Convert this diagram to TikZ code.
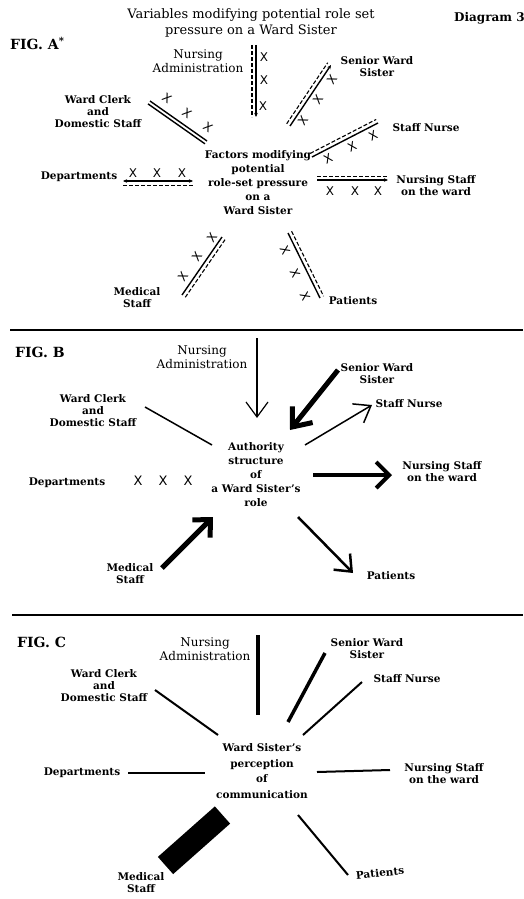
\documentclass[tikz,border=0pt]{standalone}
\usepackage{fontspec}
\setmainfont{DejaVu Serif}
\newfontfamily\crossfont{DejaVu Sans}
\usetikzlibrary{arrows.meta,calc}

\tikzset{
  lab/.style={font=\fontsize{10.5}{12}\selectfont\bfseries, align=center, inner sep=0pt},
  labr/.style={font=\fontsize{12}{13.5}\selectfont, align=center, inner sep=0pt},
  hub/.style={align=center, inner sep=0pt, font=\fontsize{10.5}{14}\selectfont\bfseries},
  ttl/.style={font=\fontsize{13}{15.5}\selectfont, align=center, inner sep=0pt},
  figlab/.style={font=\fontsize{14}{14}\selectfont\bfseries, inner sep=0pt, anchor=base west},
  xm/.style={font=\crossfont\fontsize{12}{12}\selectfont, inner sep=0pt},
  xmb/.style={font=\crossfont\fontsize{13}{13}\selectfont, inner sep=0pt},
  rail/.style={line width=1.4pt},
  raild/.style={line width=1.1pt, dash pattern=on 4pt off 2pt},
  smalltip/.style={-{Stealth[length=4pt,width=3.5pt]}},
  seprule/.style={line width=2.5pt},
}

\begin{document}
\begin{tikzpicture}[x=1pt,y=-1pt]
\useasboundingbox (0,0) rectangle (523,899);
\fill[white] (0,0) rectangle (523,899);

% ---------------- heading ----------------
\node[ttl] (title) at (251,23) {Variables modifying potential role set\\pressure on a Ward Sister};
\node[figlab, font=\fontsize{12}{12}\selectfont\bfseries] (diag) at (454,22) {Diagram 3};

% ---------------- FIG. A : role-set pressure ----------------
\node[figlab] (figA) at (10,50) {FIG. A\textsuperscript{*}};
\node[labr] (aAdm) at (198,61) {Nursing\\Administration};
\node[lab] (aSen) at (377,67) {Senior Ward\\Sister};
\node[lab] (aClk) at (98,112) {Ward Clerk\\and\\Domestic Staff};
\node[lab] (aNur) at (426,128) {Staff Nurse};
\node[lab] (aDep) at (79,177) {Departments};
\node[lab] (aStf) at (436,186) {Nursing Staff\\on the ward};
\node[hub] (aHub) at (258,183) {Factors modifying\\potential\\role-set pressure\\on a\\Ward Sister};
\node[lab] (aMed) at (137,298) {Medical\\Staff};
\node[lab] (aPat) at (353,301) {Patients};

% paired rails (one solid, one dashed) with crosses
\coordinate (aAdmA) at (256,45);  \coordinate (aAdmB) at (256,117);
\draw[rail, smalltip] (aAdmA) -- (aAdmB);
\draw[raild] ($(aAdmA)!4pt!-90:(aAdmB)$) -- ($(aAdmB)!4pt!90:(aAdmA)$);
\node[xm] (aAdmX1) at (264,57) {X};
\node[xm] (aAdmX2) at (264,80) {X};
\node[xm] (aAdmX3) at (263,106) {X};

\coordinate (aSenA) at (290,126); \coordinate (aSenB) at (331,65);
\draw[rail, smalltip] (aSenA) -- (aSenB);
\draw[raild] ($(aSenA)!4pt!90:(aSenB)$) -- ($(aSenB)!4pt!-90:(aSenA)$);
\node[xm, rotate=55] (aSenX1) at (332,80) {X};
\node[xm, rotate=55] (aSenX2) at (318,100) {X};
\node[xm, rotate=55] (aSenX3) at (303,121) {X};

\coordinate (aClkA) at (150,101); \coordinate (aClkB) at (207,141);
\draw[rail] (aClkA) -- (aClkB);
\draw[rail] ($(aClkA)!3.5pt!-90:(aClkB)$) -- ($(aClkB)!3.5pt!90:(aClkA)$);
\node[xm, rotate=-35] (aClkX1) at (167,98) {X};
\node[xm, rotate=-35] (aClkX2) at (187,113) {X};
\node[xm, rotate=-35] (aClkX3) at (208,127) {X};

\coordinate (aNurA) at (312,157); \coordinate (aNurB) at (378,123);
\draw[rail] (aNurA) -- (aNurB);
\draw[raild] ($(aNurA)!4pt!90:(aNurB)$) -- ($(aNurB)!4pt!-90:(aNurA)$);
\node[xm, rotate=27] (aNurX1) at (328,159) {X};
\node[xm, rotate=27] (aNurX2) at (352,147) {X};
\node[xm, rotate=27] (aNurX3) at (373,136) {X};

\coordinate (aDepA) at (123,181); \coordinate (aDepB) at (193,181);
\draw[rail, {Stealth[length=4pt,width=3.5pt]}-{Stealth[length=4pt,width=3.5pt]}] (aDepA) -- (aDepB);
\draw[raild] ($(aDepA)!4.5pt!-90:(aDepB)$) -- ($(aDepB)!4.5pt!90:(aDepA)$);
\node[xm] (aDepX1) at (133,173) {X};
\node[xm] (aDepX2) at (157,173) {X};
\node[xm] (aDepX3) at (182,173) {X};

\coordinate (aStfA) at (317,180); \coordinate (aStfB) at (388,180);
\draw[rail, smalltip] (aStfA) -- (aStfB);
\draw[raild] ($(aStfA)!3.5pt!90:(aStfB)$) -- ($(aStfB)!3.5pt!-90:(aStfA)$);
\node[xm] (aStfX1) at (330,191) {X};
\node[xm] (aStfX2) at (355,191) {X};
\node[xm] (aStfX3) at (378,191) {X};

\coordinate (aMedA) at (182,295); \coordinate (aMedB) at (222,237);
\draw[rail] (aMedA) -- (aMedB);
\draw[raild] ($(aMedA)!4pt!-90:(aMedB)$) -- ($(aMedB)!4pt!90:(aMedA)$);
\node[xm, rotate=55] (aMedX1) at (183,277) {X};
\node[xm, rotate=55] (aMedX2) at (197,257) {X};
\node[xm, rotate=55] (aMedX3) at (212,238) {X};

\coordinate (aPatA) at (288,233); \coordinate (aPatB) at (320,298);
\draw[rail] (aPatA) -- (aPatB);
\draw[raild] ($(aPatA)!4pt!90:(aPatB)$) -- ($(aPatB)!4pt!-90:(aPatA)$);
\node[xm, rotate=-64] (aPatX1) at (285,250) {X};
\node[xm, rotate=-64] (aPatX2) at (295,273) {X};
\node[xm, rotate=-64] (aPatX3) at (305,296) {X};

\coordinate (sepAL) at (10,330); \coordinate (sepAR) at (523,330);
\draw[seprule] (sepAL) -- (sepAR);

% ---------------- FIG. B : authority structure ----------------
\node[figlab] (figB) at (15,357) {FIG. B};
\node[labr] (bAdm) at (202,357) {Nursing\\Administration};
\node[lab] (bSen) at (377,374) {Senior Ward\\Sister};
\node[lab] (bClk) at (93,411) {Ward Clerk\\and\\Domestic Staff};
\node[lab] (bNur) at (409,404) {Staff Nurse};
\node[hub] (bHub) at (256,475) {Authority\\structure\\of\\a Ward Sister's\\role};
\node[lab] (bDep) at (67,483) {Departments};
\node[xmb] (bX1) at (138,481) {X};
\node[xmb] (bX2) at (163,481) {X};
\node[xmb] (bX3) at (188,481) {X};
\node[lab] (bStf) at (442,472) {Nursing Staff\\on the ward};
\node[lab] (bMed) at (130,574) {Medical\\Staff};
\node[lab] (bPat) at (391,576) {Patients};

\coordinate (bAdmA) at (257,338); \coordinate (bAdmB) at (257,418);
\draw[line width=1.2pt, -{Straight Barb[length=15pt,width=22pt]}] (bAdmA) -- (bAdmB);
\coordinate (bSenA) at (338,370); \coordinate (bSenB) at (290,430);
\draw[line width=5pt, -{Straight Barb[length=16pt,width=26pt]}] (bSenA) -- (bSenB);
\coordinate (bClkA) at (145,407); \coordinate (bClkB) at (212,445);
\draw[line width=1.5pt] (bClkA) -- (bClkB);
\coordinate (bNurA) at (305,445); \coordinate (bNurB) at (372,405);
\draw[line width=1.5pt, -{Straight Barb[length=15pt,width=22pt]}] (bNurA) -- (bNurB);
\coordinate (bStfA) at (313,475); \coordinate (bStfB) at (392,475);
\draw[line width=4pt, -{Straight Barb[length=13pt,width=26pt]}] (bStfA) -- (bStfB);
\coordinate (bMedA) at (162,568); \coordinate (bMedB) at (213,517);
\draw[line width=5pt, -{Straight Barb[length=13pt,width=25pt]}] (bMedA) -- (bMedB);
\coordinate (bPatA) at (298,517); \coordinate (bPatB) at (353,573);
\draw[line width=2.5pt, -{Straight Barb[length=14pt,width=23pt]}] (bPatA) -- (bPatB);

\coordinate (sepBL) at (12,615); \coordinate (sepBR) at (523,615);
\draw[seprule] (sepBL) -- (sepBR);

% ---------------- FIG. C : perception of communication ----------------
\node[figlab] (figC) at (17,647) {FIG. C};
\node[labr] (cAdm) at (205,649) {Nursing\\Administration};
\node[lab] (cSen) at (367,649) {Senior Ward\\Sister};
\node[lab] (cClk) at (104,686) {Ward Clerk\\and\\Domestic Staff};
\node[lab] (cNur) at (407,679) {Staff Nurse};
\node[hub, font=\fontsize{10.5}{15.5}\selectfont\bfseries] (cHub) at (262,771) {Ward Sister's\\perception\\of\\communication};
\node[lab] (cDep) at (82,773) {Departments};
\node[lab] (cStf) at (444,774) {Nursing Staff\\on the ward};
\node[lab] (cMed) at (141,883) {Medical\\Staff};
\node[lab, rotate=6] (cPat) at (380,873) {Patients};

\coordinate (cAdmA) at (258,635); \coordinate (cAdmB) at (258,715);
\draw[line width=4pt] (cAdmA) -- (cAdmB);
\coordinate (cSenA) at (325,653); \coordinate (cSenB) at (288,722);
\draw[line width=3.5pt] (cSenA) -- (cSenB);
\coordinate (cClkA) at (155,690); \coordinate (cClkB) at (218,735);
\draw[line width=2pt] (cClkA) -- (cClkB);
\coordinate (cNurA) at (362,682); \coordinate (cNurB) at (303,735);
\draw[line width=2pt] (cNurA) -- (cNurB);
\coordinate (cDepA) at (128,773); \coordinate (cDepB) at (205,773);
\draw[line width=2pt] (cDepA) -- (cDepB);
\coordinate (cStfA) at (317,772); \coordinate (cStfB) at (390,770);
\draw[line width=2pt] (cStfA) -- (cStfB);
\coordinate (cPatA) at (298,815); \coordinate (cPatB) at (348,875);
\draw[line width=2pt] (cPatA) -- (cPatB);
\coordinate (cMedA) at (165.5,865.5); \coordinate (cMedB) at (222.5,815);
\draw[line width=23pt] (cMedA) -- (cMedB);
\end{tikzpicture}
\end{document}
